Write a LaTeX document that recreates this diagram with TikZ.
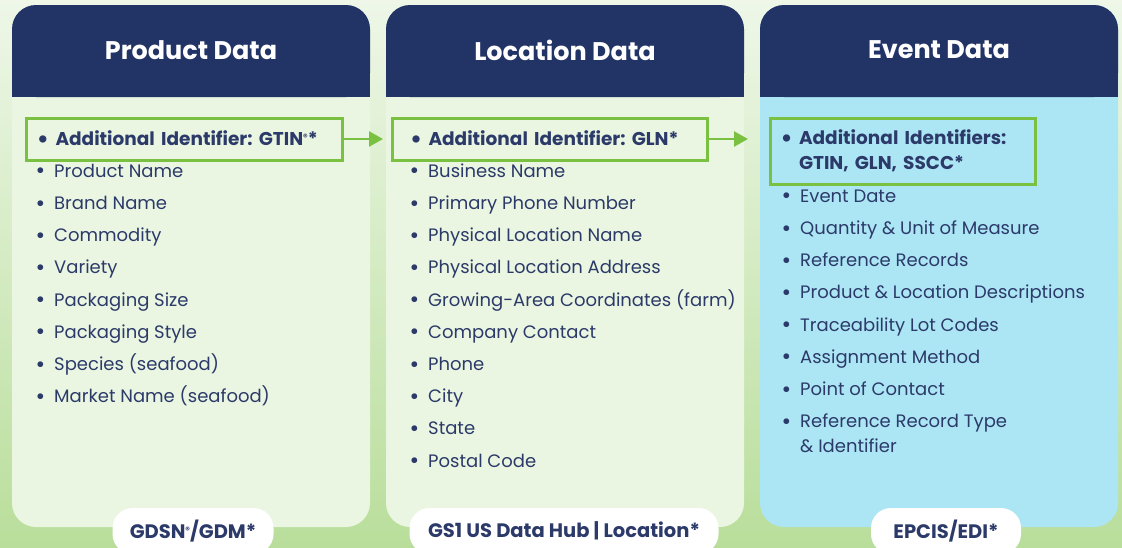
\documentclass[tikz,border=0pt]{standalone}
\usepackage{fontspec}
\setmainfont{Poppins}
\usetikzlibrary{arrows.meta}

\definecolor{hdrblue}{RGB}{34,51,102}
\definecolor{inkblue}{RGB}{44,58,106}
\definecolor{pgreen}{RGB}{234,246,225}
\definecolor{pblue}{RGB}{172,230,244}
\definecolor{keygreen}{RGB}{122,193,66}
\definecolor{bgtop}{RGB}{238,247,232}
\definecolor{bgbot}{RGB}{185,222,155}

\newcommand\dotmark{\makebox[16pt][l]{\hspace{-2.5pt}\raisebox{-1.6pt}{\scalebox{1.3}{\textbullet}}}}
\newcommand\regmark{\raisebox{5pt}{\fontsize{9}{9}\selectfont ®}}

\tikzset{
  title/.style={text=white, font=\bfseries\fontsize{25.5}{30}\selectfont},
  item/.style={anchor=base west, inner sep=0pt, text=inkblue, align=left,
    font=\frenchspacing\fontsize{18}{25}\selectfont},
  keybox/.style={draw=keygreen, line width=3pt, anchor=west, align=left,
    text=inkblue, font=\frenchspacing\bfseries\fontsize{18.5}{25}\selectfont,
    inner ysep=4pt},
  link/.style={draw=keygreen, line width=2.5pt,
    -{Triangle[length=14pt,width=15pt]}},
  tag/.style={fill=white, rounded corners=20pt, minimum height=46pt,
    text=inkblue, font=\bfseries\fontsize{19.5}{22}\selectfont}
}

\begin{document}
\begin{tikzpicture}[x=1pt,y=-1pt]
\useasboundingbox (0,0) rectangle (1122,547);
\clip (0,0) rectangle (1122,547);
\shade[top color=bgtop, bottom color=bgbot] (0,0) rectangle (1122,547);

% panels
\foreach \x/\col in {12/pgreen, 386/pgreen, 760/pblue} {
  \fill[\col, rounded corners=24pt] (\x,5) rectangle ++(358,522);
  \fill[hdrblue, rounded corners=24pt] (\x,5) rectangle ++(358,92);
  \fill[hdrblue] (\x,50) rectangle ++(358,47);
}

\node[title] (prodtitle) at (191,50) {Product Data};
\node[title] (loctitle) at (565,50) {Location Data};
\node[title] (evttitle) at (939,50) {Event Data};

% key identifiers
\node[keybox, minimum width=316pt, minimum height=42pt, inner xsep=11pt,
  text width=290pt] (prodkey) at (25,139)
  {\dotmark Additional Identifier: GTIN\regmark*};
\node[keybox, minimum width=315pt, minimum height=42pt, inner xsep=18pt,
  text width=275pt] (lockey) at (391,139)
  {\dotmark Additional Identifier: GLN*};
\node[keybox, minimum width=265pt, minimum height=66pt, inner xsep=12pt,
  text width=240pt] (evtkey) at (769,151)
  {\dotmark Additional Identifiers:\\\hspace*{16pt}GTIN, GLN, SSCC*};

\draw[link, shorten >=8pt] (prodkey.east) -- (lockey.west);
\draw[link, shorten >=21pt] (lockey.east) -- (lockey.east -| evtkey.west);

% product list
\foreach \txt [count=\i] in {Product Name, Brand Name, Commodity, Variety,
  Packaging Size, Packaging Style, Species (seafood), Market Name (seafood)}
  \node[item] (prod\i) at (38,145+32.2*\i) {\dotmark\txt};

% location list
\foreach \txt [count=\i] in {Business Name, Primary Phone Number,
  Physical Location Name, Physical Location Address,
  Growing-Area Coordinates (farm), Company Contact, Phone, City, State,
  Postal Code}
  \node[item] (loc\i) at (412,145+32.2*\i) {\dotmark\txt};

% event list
\foreach \txt [count=\i] in {Event Date, Quantity \& Unit of Measure,
  Reference Records, Product \& Location Descriptions,
  Traceability Lot Codes, Assignment Method, Point of Contact}
  \node[item] (evt\i) at (784,170+32.2*\i) {\dotmark\txt};
\node[item, anchor=west] (evt8) at (784,433.5)
  {\dotmark Reference Record Type\\\hspace*{16pt}\& Identifier};

% systems
\node[tag, minimum width=161pt] (prodtag) at (193,531) {GDSN\regmark/GDM*};
\node[tag, minimum width=309pt] (loctag) at (564,531) {GS1 US Data Hub | Location*};
\node[tag, minimum width=150pt] (evttag) at (946,531) {EPCIS/EDI*};
\end{tikzpicture}
\end{document}
